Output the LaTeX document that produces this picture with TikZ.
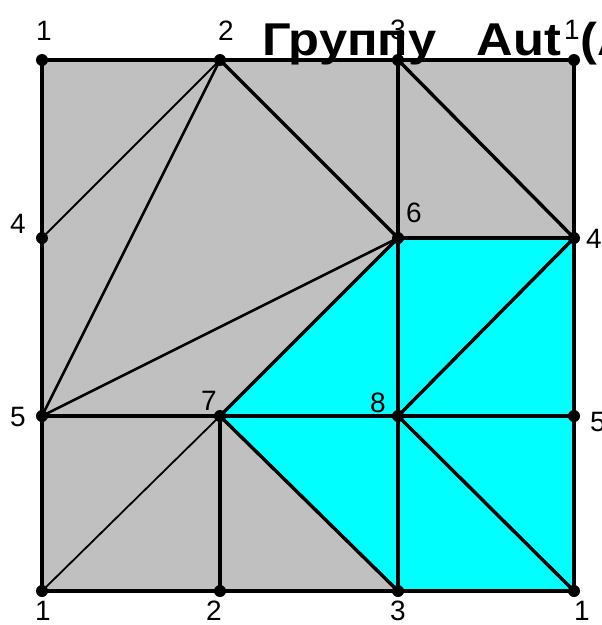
\documentclass[tikz,border=0pt]{standalone}
\usepackage{fontspec}
\setmainfont{Liberation Sans}
\definecolor{greyfill}{HTML}{C0C0C0}
\definecolor{cyanfill}{HTML}{00FFFF}
\begin{document}
\begin{tikzpicture}[x=1pt,y=-1pt,
  dot/.style={circle,fill=black,inner sep=0pt,minimum size=12pt},
  lab/.style={inner sep=0pt,font=\fontsize{28}{28}\selectfont},
  edge/.style={line width=3.4pt},
  thinedge/.style={line width=1.8pt},
  midedge/.style={line width=2.5pt}]
\clip (0,0) rectangle (602,625);
\fill[white] (0,0) rectangle (602,625);
% vertices
\coordinate (a1) at (42,60);
\coordinate (a2) at (220,60);
\coordinate (a3) at (398,60);
\coordinate (a4) at (574,60);
\coordinate (l4) at (42,238);
\coordinate (v6) at (398,238);
\coordinate (r4) at (574,238);
\coordinate (l5) at (42,416);
\coordinate (v7) at (220,416);
\coordinate (v8) at (398,416);
\coordinate (r5) at (574,416);
\coordinate (b1) at (42,591);
\coordinate (b2) at (220,591);
\coordinate (b3) at (398,591);
\coordinate (b4) at (574,591);
% fills
\fill[greyfill] (a1) rectangle (b4);
\fill[cyanfill] (v6) -- (r4) -- (b4) -- (b3) -- (v7) -- cycle;
% title
\node[anchor=base west,inner sep=0pt,font=\fontsize{46}{46}\selectfont\bfseries] (title) at (262,55)
  {\scalebox{1.1}[1]{Группу}\hspace{40pt}\scalebox{1.1}[1]{Aut}\hspace{20pt}\scalebox{1.1}[1]{(A}};
% edges
\draw[edge] (a1) -- (a4) -- (b4) -- (b1) -- cycle;
\draw[thinedge] (a2) -- (l4);
\draw[midedge] (a2) -- (l5);
\draw[edge] (a2) -- (v6);
\draw[midedge] (l5) -- (v6);
\draw[edge] (a3) -- (v6);
\draw[edge] (a3) -- (r4);
\draw[edge] (v6) -- (r4);
\draw[edge] (v6) -- (v8);
\draw[edge] (v6) -- (v7);
\draw[edge] (v8) -- (r4);
\draw[edge] (l5) -- (r5);
\draw[thinedge] (b1) -- (v7);
\draw[edge] (v7) -- (b2);
\draw[edge] (v7) -- (b3);
\draw[edge] (v8) -- (b3);
\draw[edge] (v8) -- (b4);
% dots
\foreach \p in {a1,a2,a3,a4,l4,v6,r4,l5,v7,v8,r5,b1,b2,b3,b4}
  \node[dot] (d\p) at (\p) {};
% labels
\node[lab] (ta1) at (44,31) {1};
\node[lab] (ta2) at (226,31) {2};
\node[lab] (ta3) at (398,30) {3};
\node[lab] (ta4) at (572,30) {1};
\node[lab] (tl4) at (18,224) {4};
\node[lab] (t6) at (414,213) {6};
\node[lab] (tr4) at (594,239) {4};
\node[lab] (tl5) at (18,417) {5};
\node[lab] (t7) at (209,401) {7};
\node[lab] (t8) at (378,403) {8};
\node[lab] (tr5) at (598,422) {5};
\node[lab] (tb1) at (43,611) {1};
\node[lab] (tb2) at (214,611) {2};
\node[lab] (tb3) at (398,611) {3};
\node[lab] (tb4) at (582,611) {1};
\end{tikzpicture}
\end{document}
